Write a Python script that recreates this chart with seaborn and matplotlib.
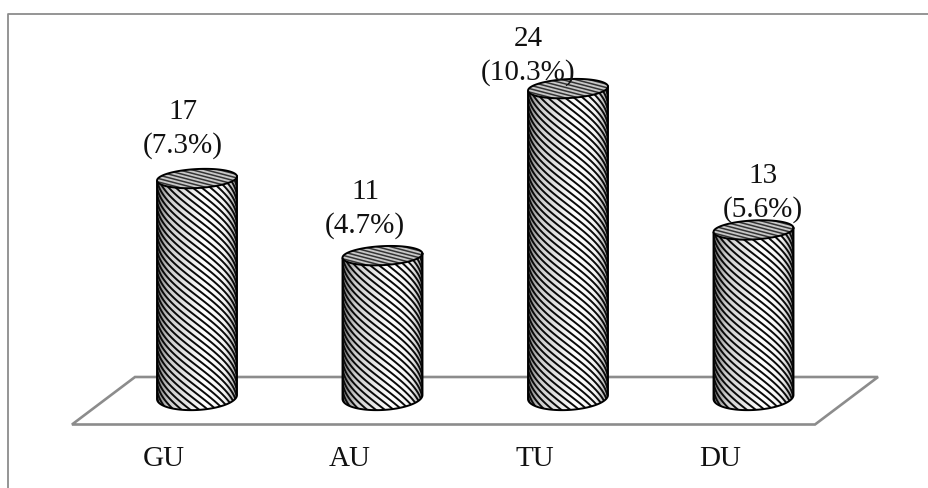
import numpy as np
import matplotlib.pyplot as plt
from matplotlib.patches import Polygon
from matplotlib.collections import LineCollection
import seaborn as sns
import pandas as pd

categories = ['GU', 'AU', 'TU', 'DU']
counts = [17, 11, 24, 13]
percents = ['7.3%', '4.7%', '10.3%', '5.6%']

# label nudges, the labels are not centred on the bars
label_dx = [-0.075, -0.094, -0.216, 0.049]
label_dy = [1.56, 1.32, 0.23, 0.54]

sns.set_theme(style='white')
plt.rcParams['font.family'] = ['Liberation Serif', 'DejaVu Serif']

df = pd.DataFrame({'cat': categories, 'count': counts})

fig = plt.figure(figsize=(9.29, 4.88), dpi=100)
ax = fig.add_axes([0, 0, 1, 1])
sns.barplot(data=df, x='cat', y='count', ax=ax, width=0.431, color='white', saturation=1)
ax.axis('off')

# one pixel in data units
px_x = 1 / 185.5
px_y = 1 / 12.85
xlim = (-197 * px_x, 732 * px_x)
ylim = (-91 * px_y, 397 * px_y)


def to_data(x, y):
    return ((x - 197) * px_x, (397 - y) * px_y)


# outer frame
ax.plot([8 / 929, 8 / 929, 1.01], [-0.01, 1 - 14 / 488, 1 - 14 / 488], transform=ax.transAxes,
        color='#8c8c8c', lw=1.3, clip_on=False)

# floor
ax.add_patch(Polygon([to_data(72, 424.5), to_data(135, 377), to_data(878, 377), to_data(815, 424.5)],
                     closed=True, fill=False, ec='#8c8c8c', lw=1.9, zorder=1))

# light sides of the cylinder, dark on the left
xg = np.linspace(0, 1, 80)
grad = np.interp(xg, [0, 0.15, 0.6, 0.85, 1], [0.5, 0.8, 1, 0.95, 0.65])[None, :]

t = np.linspace(0, 2 * np.pi, 120)
arc = np.linspace(np.pi, 2 * np.pi, 60)
lean = 2 * px_y

for i, bar in enumerate(ax.patches[:4]):
    x0, w, h = bar.get_x(), bar.get_width(), bar.get_height()
    cx = x0 + w / 2
    bar.set_linewidth(0)
    bar.set_facecolor('none')

    # side wall with the rounded base
    bx = cx + w / 2 * np.cos(arc)
    by = 13 * px_y * np.sin(arc) + lean * np.cos(arc)
    wall_xy = np.vstack([[x0, h - lean], np.column_stack([bx, by]), [x0 + w, h + lean]])
    wall = Polygon(wall_xy, closed=True, fc='white', ec='none', zorder=2)
    ax.add_patch(wall)
    im = ax.imshow(grad, extent=(x0, x0 + w, -14 * px_y, h + lean), aspect='auto', cmap='gray',
                   vmin=0, vmax=1, zorder=3)
    im.set_clip_path(wall)

    # stripes wrap round the cylinder
    theta = np.linspace(-np.pi / 2, np.pi / 2, 40)
    segs = []
    for v0 in np.arange(-60 * px_y, h + 60 * px_y, 7 * px_y):
        segs.append(np.column_stack([cx + w / 2 * np.sin(theta), v0 - 31 * px_y * theta]))
    lc = LineCollection(segs, colors='#0a0a0a', linewidths=1.4, zorder=4)
    ax.add_collection(lc)
    lc.set_clip_path(wall)

    ax.plot(wall_xy[:, 0], wall_xy[:, 1], color='black', lw=1.4, zorder=5, solid_capstyle='butt')

    # top of the cylinder
    top_xy = np.column_stack([cx + w / 2 * np.cos(t), h + 9.5 * px_y * np.sin(t) + lean * np.cos(t)])
    top = Polygon(top_xy, closed=True, fc='#c8c8c8', ec='none', zorder=6)
    ax.add_patch(top)
    u = np.array([x0, x0 + w])
    segs = [np.column_stack([u, v0 - 0.26 * (u - cx) * 185.5 * px_y])
            for v0 in np.arange(h - 24 * px_y, h + 24 * px_y, 3.5 * px_y)]
    lc = LineCollection(segs, colors='#333333', linewidths=1.1, zorder=7)
    ax.add_collection(lc)
    lc.set_clip_path(top)
    ax.plot(top_xy[:, 0], top_xy[:, 1], color='black', lw=1.4, zorder=8)

    ax.text(i + label_dx[i], h + label_dy[i], f'{counts[i]}\n({percents[i]})', ha='center', va='bottom',
            fontsize=21, color='#111111', linespacing=1.32, zorder=9)
    ax.text(i - 0.178, -4.82, categories[i], ha='center', va='center', fontsize=21,
            color='#111111', zorder=9)

ax.set_xlim(*xlim)
ax.set_ylim(*ylim)

fig.savefig('out.png', dpi=100)
